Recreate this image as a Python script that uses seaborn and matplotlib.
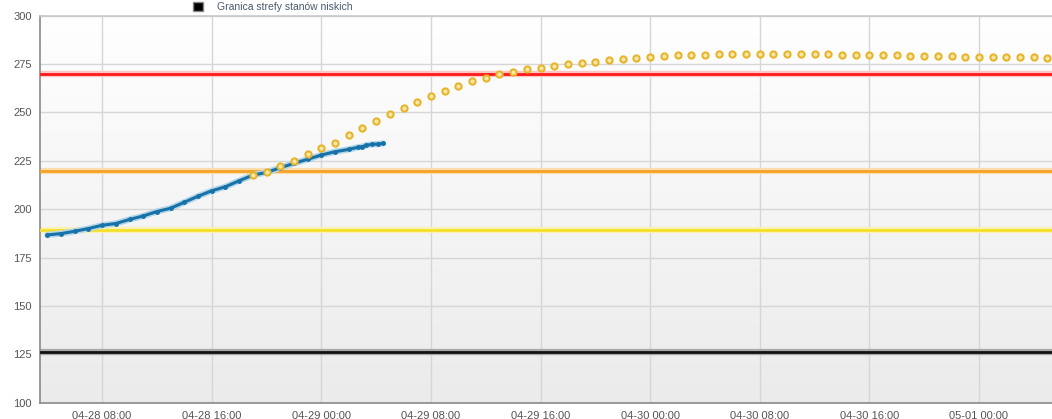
import matplotlib
matplotlib.use("Agg")
import matplotlib.pyplot as plt
import matplotlib.dates as mdates
import numpy as np
import pandas as pd
import seaborn as sns

# observed water level (blue)
obs_times = ["2024-04-28 04:00", "2024-04-28 05:00", "2024-04-28 06:00", "2024-04-28 07:00",
             "2024-04-28 08:00", "2024-04-28 09:00", "2024-04-28 10:00", "2024-04-28 11:00",
             "2024-04-28 12:00", "2024-04-28 13:00", "2024-04-28 14:00", "2024-04-28 15:00",
             "2024-04-28 16:00", "2024-04-28 17:00", "2024-04-28 18:00", "2024-04-28 19:00",
             "2024-04-28 20:00", "2024-04-28 21:00", "2024-04-28 22:00", "2024-04-28 23:00",
             "2024-04-29 00:00", "2024-04-29 01:00", "2024-04-29 02:00", "2024-04-29 02:40",
             "2024-04-29 03:00", "2024-04-29 03:15", "2024-04-29 03:40", "2024-04-29 04:10",
             "2024-04-29 04:30"]
obs_values = [186.7, 187.4, 188.6, 190.0, 191.7, 192.6, 194.7, 196.5, 198.8, 200.5,
              203.6, 206.7, 209.5, 211.6, 214.7, 217.6, 219.0, 221.4, 223.7, 225.8,
              228.0, 229.7, 230.9, 232.0, 232.3, 233.0, 233.5, 233.7, 234.0]

# forecast (yellow dots), hourly from 04-28 19:00
fc_start = "2024-04-28 19:00"
fc_values = [217.6, 219.2, 222.4, 225.0, 228.3,
             231.4, 234.4, 238.3, 241.8, 245.4, 249.4, 252.5, 255.6, 258.7, 261.3, 263.7, 266.0,
             268.0, 269.9, 271.1, 272.2, 273.1, 274.1, 275.0, 275.6, 276.3, 277.0, 277.7, 278.2,
             278.6, 279.1, 279.45, 279.6, 279.8, 280.0, 280.0, 280.1, 280.1, 280.1, 280.1, 280.1,
             280.0, 280.0, 279.8, 279.8, 279.6, 279.45, 279.45, 279.3, 279.3, 279.1, 279.1, 278.9,
             278.9, 278.75, 278.6, 278.6, 278.4, 278.2]

# threshold levels
levels = [270, 220, 189, 126]
level_colors = ["#ff1a1a", "#f5a225", "#f3e02a", "#111111"]
level_halo = ["#ffc4c4", "#fbdcaa", "#f9f2b4", "#a8a8a8"]

legend_label = "Granica strefy stanów niskich"

sns.set_theme(style="white")
plt.rcParams['font.family'] = ['Liberation Sans', 'DejaVu Sans']

obs = pd.DataFrame({"time": pd.to_datetime(obs_times), "value": obs_values})
fc = pd.DataFrame({"time": pd.date_range(fc_start, periods=len(fc_values), freq="h"),
                   "value": fc_values})

fig = plt.figure(figsize=(10.52, 4.19), dpi=100)
ax = fig.add_axes([40 / 1052, 1 - 402.7 / 419, 1 - 40 / 1052, (402.7 - 15.7) / 419])

x0 = pd.Timestamp("2024-04-28 03:28")
x1 = pd.Timestamp("2024-05-01 05:20")

# background gradient, white at top to light grey at bottom
grad = np.linspace(0, 1, 256).reshape(-1, 1)
bg_cmap = matplotlib.colors.LinearSegmentedColormap.from_list("bg", ["#ffffff", "#ebebeb"])
ax.imshow(grad, aspect="auto", cmap=bg_cmap, origin="upper",
          extent=[mdates.date2num(x0), mdates.date2num(x1), 100, 300], zorder=0)
ax.set_xlim(x0, x1)
ax.set_ylim(100, 300)

ax.grid(True, color="#d6d6d6", linewidth=1)
ax.set_axisbelow(True)

for lv, c, h in zip(levels, level_colors, level_halo):
    ax.axhline(lv, color=h, linewidth=4.5, zorder=2)
    ax.axhline(lv, color=c, linewidth=2, zorder=3)

sns.lineplot(data=obs, x="time", y="value", ax=ax, color="#b5d6e8", linewidth=4.5, zorder=4)
sns.lineplot(data=obs, x="time", y="value", ax=ax, color="#1672a8", linewidth=2.2,
             marker="o", markersize=3.5, markeredgewidth=0, zorder=5)
sns.scatterplot(data=fc, x="time", y="value", ax=ax, s=20, color="#f8e8a8",
                edgecolor="#e6b52c", linewidth=1.5, zorder=6)

ax.xaxis.set_major_locator(mdates.HourLocator(byhour=[0, 8, 16]))
ax.xaxis.set_major_formatter(mdates.DateFormatter("%m-%d %H:%M"))
ax.set_yticks(range(100, 301, 25))
ax.tick_params(axis="both", labelsize=8, labelcolor="#555555", length=0, pad=6)
ax.set_xlabel("")
ax.set_ylabel("")

ax.spines["left"].set_color("#8a8a8a")
ax.spines["bottom"].set_color("#8a8a8a")
ax.spines["top"].set_color("#c8c8c8")
ax.spines["right"].set_visible(False)
for s in ["left", "bottom", "top"]:
    ax.spines[s].set_linewidth(1.2)

# legend entry at the very top
fig.patches.append(matplotlib.patches.Rectangle((193 / 1052, 1 - 11 / 419), 10 / 1052, 9 / 419,
                   transform=fig.transFigure, facecolor="#000000", edgecolor="#888888",
                   linewidth=1))
fig.text(217 / 1052, 1 - 10.5 / 419, legend_label, fontsize=7.5, color="#4a5a70",
         va="baseline")

fig.savefig("out.png", dpi=100)
